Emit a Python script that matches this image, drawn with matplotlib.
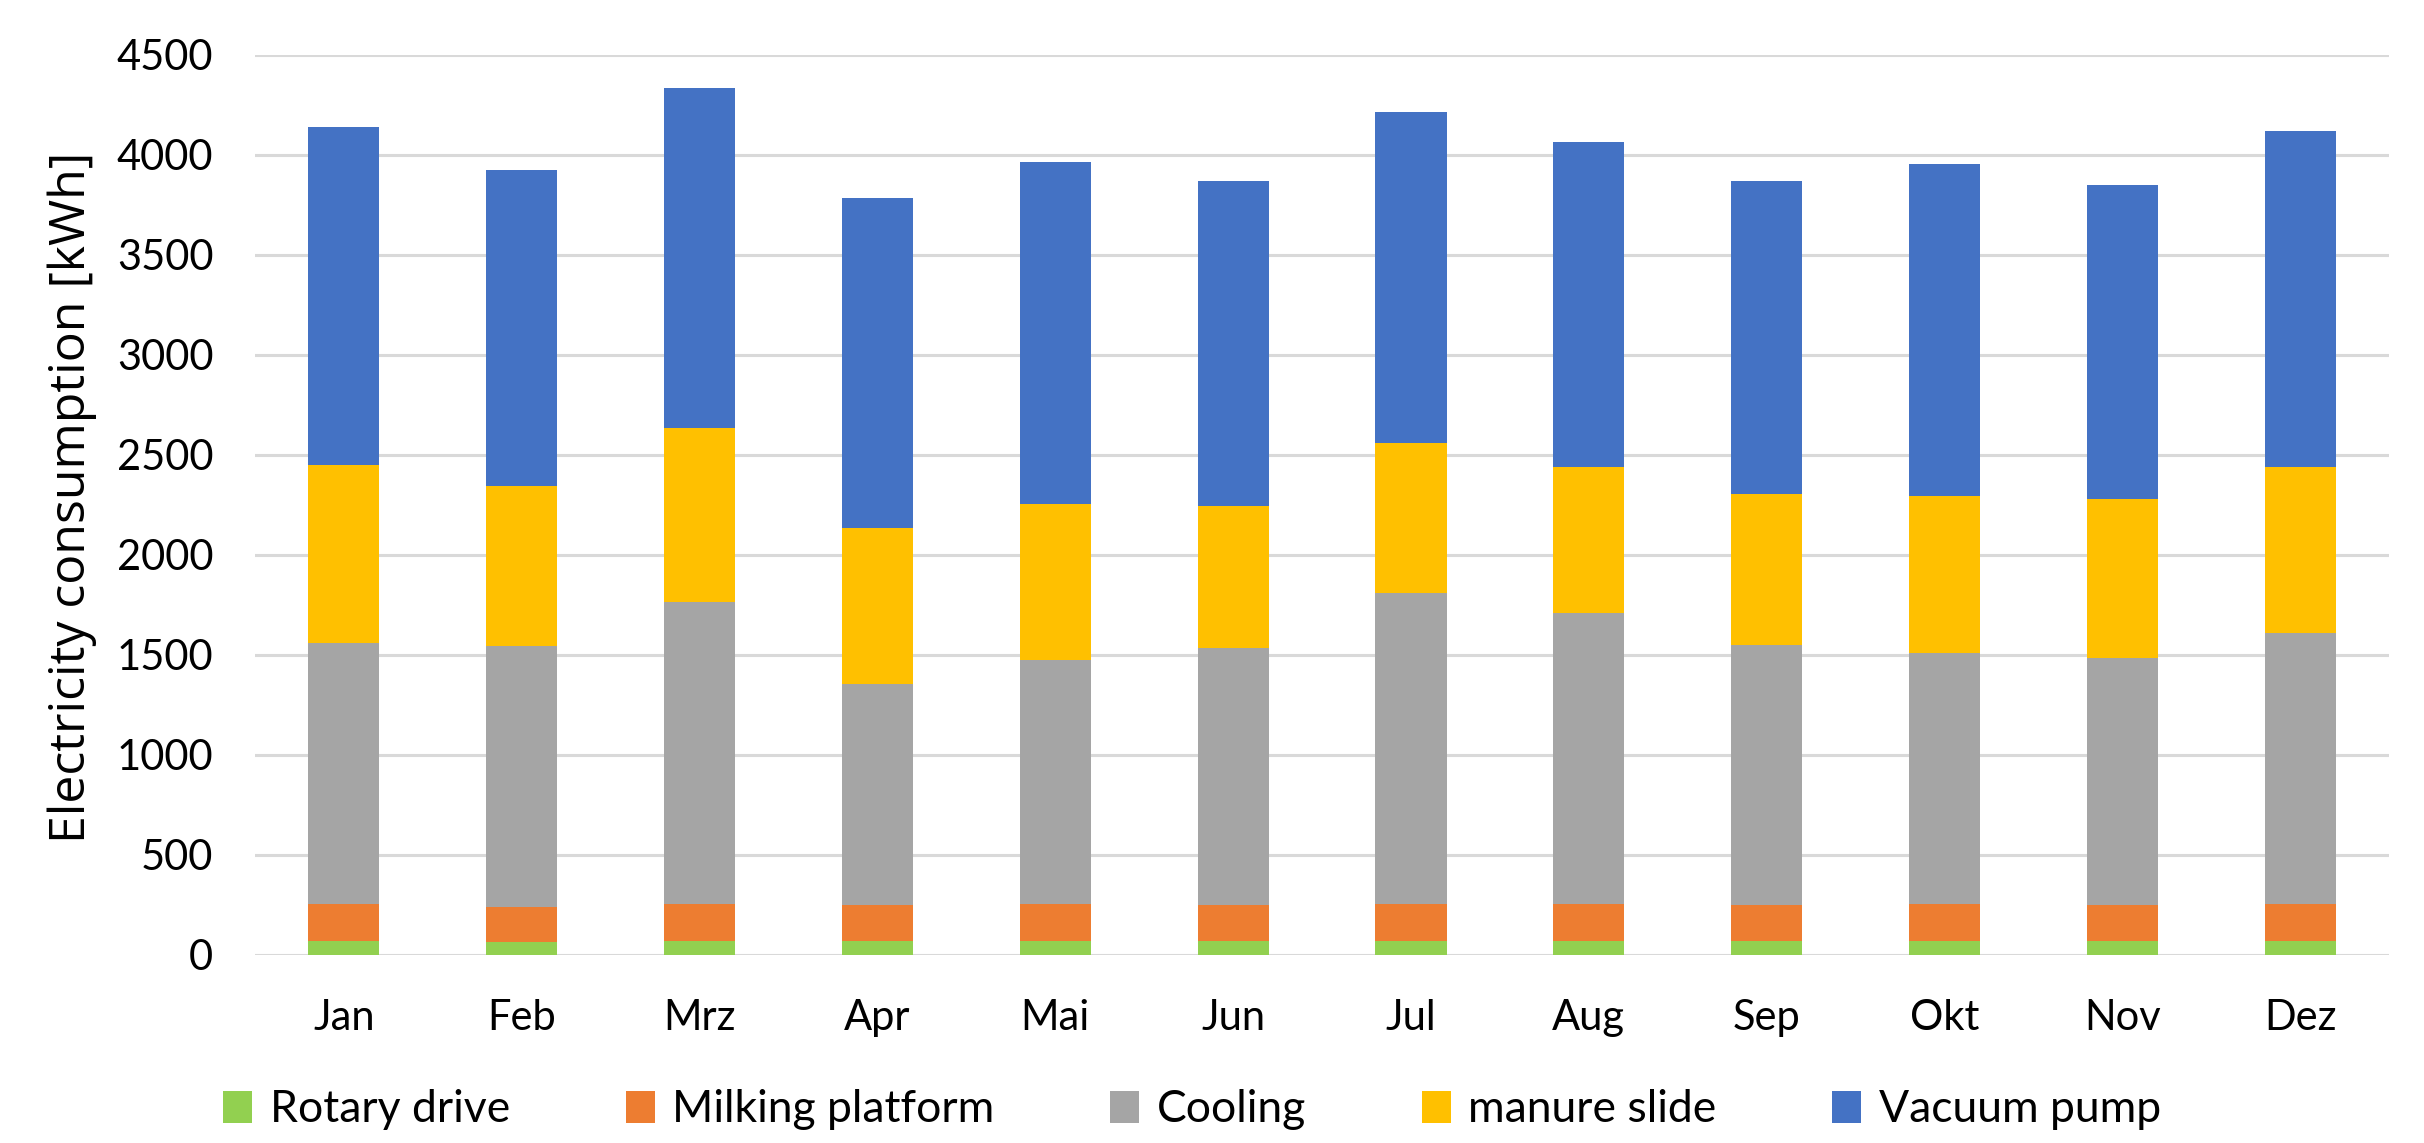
import matplotlib
matplotlib.use("Agg")
import matplotlib.pyplot as plt
import numpy as np

months = ["Jan", "Feb", "Mrz", "Apr", "Mai", "Jun", "Jul", "Aug", "Sep", "Okt", "Nov", "Dez"]
rotary_drive = [72, 66, 72, 72, 72, 72, 72, 72, 72, 72, 72, 72]
milking_platform = [184, 176, 184, 178, 184, 178, 184, 184, 178, 184, 178, 184]
cooling = [1302, 1303, 1506, 1105, 1220, 1283, 1554, 1455, 1301, 1252, 1234, 1355]
manure_slide = [889, 800, 871, 778, 778, 712, 747, 727, 752, 785, 796, 827]
vacuum_pump = [1690, 1580, 1699, 1653, 1709, 1622, 1655, 1624, 1564, 1659, 1570, 1682]

series = [
    ("Rotary drive", rotary_drive, "#92D050"),
    ("Milking platform", milking_platform, "#ED7D31"),
    ("Cooling", cooling, "#A5A5A5"),
    ("manure slide", manure_slide, "#FFC000"),
    ("Vacuum pump", vacuum_pump, "#4472C4"),
]

fig = plt.figure(figsize=(24.24, 11.43), dpi=100)
ax = fig.add_axes([0.1052, 0.1645, 0.8804, 0.7876])

x = np.arange(len(months))
bottom = np.zeros(len(months))
for name, vals, col in series:
    ax.bar(x, vals, 0.4, bottom=bottom, color=col, label=name, zorder=3)
    bottom += np.array(vals)

ax.set_xlim(-0.5, len(months) - 0.5)
ax.set_ylim(0, 4500)
ax.set_yticks(np.arange(0, 4501, 500))
ax.yaxis.grid(True, color="#D9D9D9", linewidth=2.2, zorder=0)
ax.set_axisbelow(True)
for s in ax.spines.values():
    s.set_visible(False)
ax.tick_params(axis="both", length=0)
ax.tick_params(axis="y", pad=30)
ax.tick_params(axis="x", pad=32)
ax.set_xticks(x)
ax.set_xticklabels(months, fontfamily="Lato", fontsize=30)
for lbl in ax.get_yticklabels():
    lbl.set_fontfamily("Lato")
    lbl.set_fontsize(30)

fig.text(0.03, 0.5645, "Electricity consumption [kWh]", rotation=90,
         ha="center", va="center", fontfamily="Open Sans", fontsize=36)

leg = fig.legend(loc="center", bbox_to_anchor=(0.4918, 0.029), ncol=5,
                 frameon=False, prop={"family": "Lato", "size": 32},
                 handlelength=0.65, handleheight=0.75, handletextpad=0.4,
                 columnspacing=2.6, borderaxespad=0)

fig.savefig("out.png", dpi=100)
